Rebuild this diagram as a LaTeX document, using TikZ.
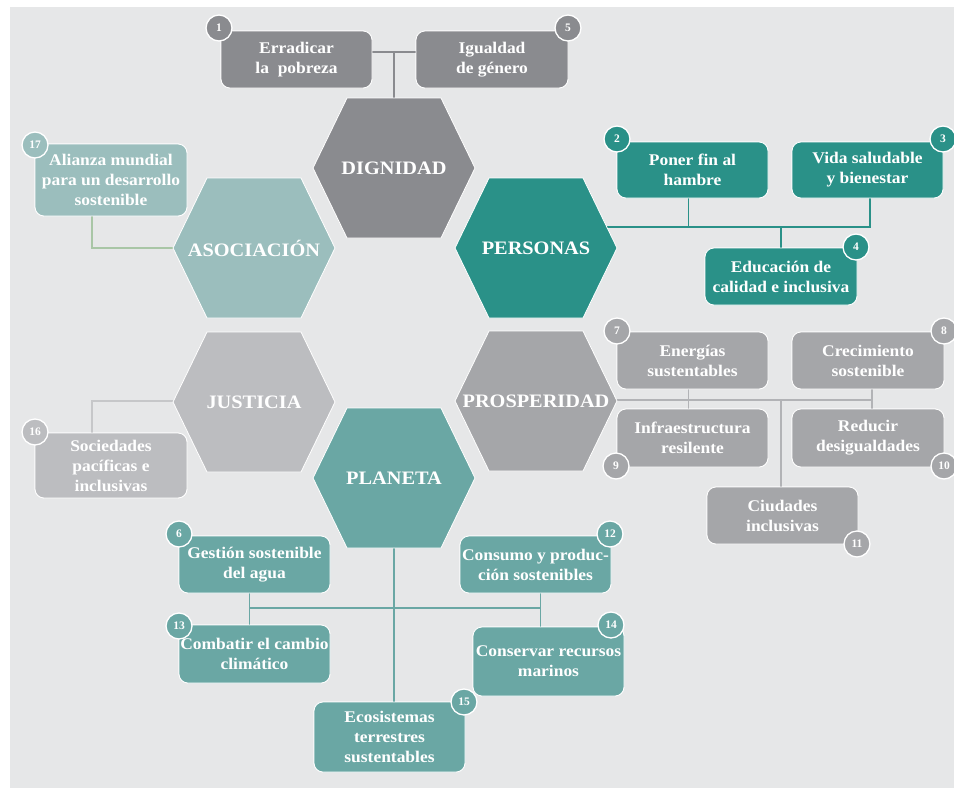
\documentclass[tikz,border=0pt]{standalone}
\usepackage{fontspec}
\setmainfont{Liberation Serif}
\newfontfamily\widefont[FakeStretch=1.07]{Liberation Serif}
\usetikzlibrary{calc}
\definecolor{bg}{HTML}{E6E7E8}
\definecolor{cDig}{HTML}{8A8B8F}
\definecolor{cPer}{HTML}{2A9188}
\definecolor{cAso}{HTML}{9BBEBD}
\definecolor{cJus}{HTML}{BCBDC0}
\definecolor{cPro}{HTML}{A5A6A9}
\definecolor{cPla}{HTML}{6AA7A4}
\definecolor{lAso}{HTML}{A9C6A6}
\definecolor{lJus}{HTML}{C6C7C9}
\definecolor{lPro}{HTML}{B2B3B6}
\tikzset{
  goalbox/.style={rectangle, rounded corners=9pt, fill=#1, draw=white, line width=0.8pt,
    text=white, align=center, minimum width=151pt, minimum height=57pt, inner sep=1pt,
    font=\widefont\bfseries\fontsize{16.3}{20}\selectfont},
  numdot/.style={circle, fill=#1, draw=white, line width=1.3pt, text=white,
    minimum size=26pt, inner sep=0pt, font=\bfseries\fontsize{11.5}{12}\selectfont},
  hexlabel/.style={text=white, font=\widefont\bfseries\fontsize{19}{22}\selectfont, inner sep=0pt},
  link/.style={draw=#1, line width=1.4pt}
}
\newcommand\hexcell[5]{%
  \filldraw[fill=#4, draw=white, line width=0.8pt] (#2,#3) ++(-81,0) -- ++(34,-70) -- ++(94,0)
     -- ++(34,70) -- ++(-34,70) -- ++(-94,0) -- cycle;
  \node[hexlabel] (#1) at (#2,#3) {#5};
}
\newcommand\allboxes[1]{%
\path
  (296.5,59.5) node[goalbox=cDig] (b1#1) {Erradicar\\la\ \ pobreza}
  (492,59.5) node[goalbox=cDig, minimum width=152pt] (b5#1) {Igualdad\\de género}
  (111,180) node[goalbox=cAso, minimum width=152pt, minimum height=72pt] (b17#1) {Alianza mundial\\para un desarrollo\\sostenible}
  (692.5,170) node[goalbox=cPer, minimum height=56pt] (b2#1) {Poner fin al\\hambre}
  (867.5,170) node[goalbox=cPer, minimum height=56pt] (b3#1) {Vida saludable\\y bienestar}
  (781,276.5) node[goalbox=cPer, minimum width=152pt] (b4#1) {Educación de\\calidad e inclusiva}
  (111,465.5) node[goalbox=cJus, minimum width=152pt, minimum height=65pt] (b16#1) {Sociedades\\pacíficas e\\inclusivas}
  (692.5,360.5) node[goalbox=cPro] (b7#1) {Energías\\sustentables}
  (868,360.5) node[goalbox=cPro, minimum width=152pt] (b8#1) {Crecimiento\\sostenible}
  (692.5,438) node[goalbox=cPro, minimum height=58pt] (b9#1) {Infraestructura\\resilente}
  (868,438) node[goalbox=cPro, minimum width=152pt, minimum height=58pt] (b10#1) {Reducir\\desigualdades}
  (782.5,515.5) node[goalbox=cPro] (b11#1) {Ciudades\\inclusivas}
  (254.5,564.5) node[goalbox=cPla] (b6#1) {Gestión sostenible\\del agua}
  (535.5,564.5) node[goalbox=cPla] (b12#1) {Consumo y produc-\\ción sostenibles}
  (254.5,654) node[goalbox=cPla, minimum height=58pt] (b13#1) {Combatir el cambio\\climático}
  (548.5,661.5) node[goalbox=cPla, minimum height=69pt] (b14#1) {Conservar recursos\\marinos}
  (389.5,737) node[goalbox=cPla, minimum height=70pt] (b15#1) {Ecosistemas\\terrestres\\sustentables};
}
\begin{document}
\begin{tikzpicture}[x=1pt,y=-1pt]
\useasboundingbox (0,0) rectangle (954,788);
\fill[bg] (10,7) rectangle (954,788);

% boxes (first pass: gives the names used by the connectors)
\allboxes{}

% connectors
\coordinate (jd) at (394,52);
\coordinate (jp) at (870,227);
\coordinate (jq) at (872,400);
\coordinate (jt) at (394,608);
\coordinate (cdig) at (394,168);
\coordinate (cper) at (536,248);
\coordinate (cpro) at (536,401);
\coordinate (cpla) at (394,478);
\draw[link=cDig] (b1.east |- jd) -- (b5.west |- jd);
\draw[link=cDig] (jd) -- (cdig);
\draw[link=lAso] ([xshift=-19pt]b17.south) |- (254,248);
\draw[link=lJus] ([xshift=-19pt]b16.north) |- (254,401);
\draw[link=cPer] (cper |- jp) -- (jp) -- (jp |- b3.south);
\draw[link=cPer] ([xshift=-4pt]b2.south) -- ([xshift=-4pt]b2.south |- jp);
\draw[link=cPer] (b4.north) -- (b4.north |- jp);
\draw[link=lPro] (cpro |- jq) -- (jq);
\draw[link=lPro] ([xshift=-4pt]b7.south) -- ([xshift=-4pt]b9.north);
\draw[link=lPro] ([xshift=4pt]b8.south) -- ([xshift=4pt]b10.north);
\draw[link=lPro] ([xshift=-1.5pt]b11.north) -- ([xshift=-1.5pt]b11.north |- jq);
\draw[link=cPla] (cpla) -- (cpla |- b15.north);
\draw[link=cPla] ([xshift=-5pt]b6.south |- jt) -- ([xshift=5pt]b12.south |- jt);
\draw[link=cPla] ([xshift=-5pt]b6.south) -- ([xshift=-5pt]b13.north);
\draw[link=cPla] ([xshift=5pt]b12.south) -- ([xshift=5pt]b12.south |- b14.north);

% hexagons
\hexcell{dig}{394}{168}{cDig}{DIGNIDAD}
\hexcell{aso}{254}{248}{cAso}{ASOCIACIÓN}
\hexcell{per}{536}{248}{cPer}{PERSONAS}
\hexcell{jus}{254}{402}{cJus}{JUSTICIA}
\hexcell{pro}{536}{401}{cPro}{PROSPERIDAD}
\hexcell{pla}{394}{478}{cPla}{PLANETA}

% boxes on top of connectors
\allboxes{t}

% number badges
\node[numdot=cDig] (n1) at (219,28) {1};
\node[numdot=cDig] (n5) at (568,28) {5};
\node[numdot=cAso] (n17) at (35,145) {17};
\node[numdot=cPer] (n2) at (617,139) {2};
\node[numdot=cPer] (n3) at (943,139) {3};
\node[numdot=cPer] (n4) at (856,247) {4};
\node[numdot=cJus] (n16) at (35,432) {16};
\node[numdot=cPro] (n7) at (617,331) {7};
\node[numdot=cPro] (n8) at (944,331) {8};
\node[numdot=cPro] (n9) at (616,466) {9};
\node[numdot=cPro] (n10) at (944,466) {10};
\node[numdot=cPro] (n11) at (857,544) {11};
\node[numdot=cPla] (n6) at (179,534) {6};
\node[numdot=cPla] (n12) at (610,534) {12};
\node[numdot=cPla] (n13) at (179,626) {13};
\node[numdot=cPla] (n14) at (611,625) {14};
\node[numdot=cPla] (n15) at (464,702) {15};
\end{tikzpicture}
\end{document}
